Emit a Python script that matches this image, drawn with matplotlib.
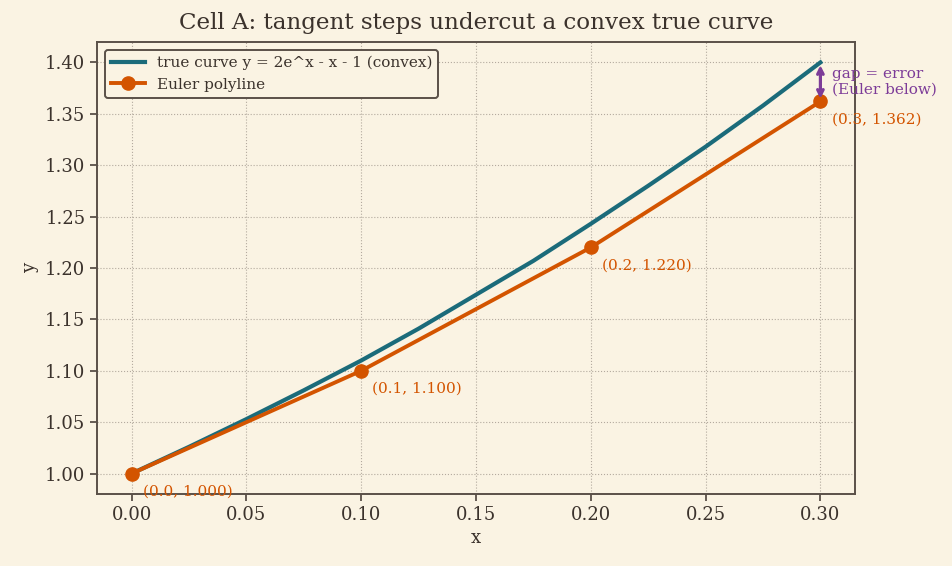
import numpy as np
import matplotlib.pyplot as plt

# true curve y = 2e^x - x - 1, values read at x steps of 0.025
true_x = [0.0, 0.025, 0.05, 0.075, 0.1, 0.125, 0.15, 0.175, 0.2, 0.225, 0.25, 0.275, 0.3]
true_y = [1.000, 1.026, 1.053, 1.081, 1.110, 1.141, 1.174, 1.207, 1.243, 1.280, 1.318, 1.358, 1.400]

# Euler polyline, h = 0.1
euler_x = [0.0, 0.1, 0.2, 0.3]
euler_y = [1.000, 1.100, 1.220, 1.362]
euler_labels = ["(0.0, 1.000)", "(0.1, 1.100)", "(0.2, 1.220)", "(0.3, 1.362)"]

bg = "#faf3e3"
ink = "#3b322c"
edge = "#5a5048"
teal = "#1b6b7a"
orange = "#d35400"
purple = "#7d3c98"

plt.rcParams['font.family'] = ['DejaVu Serif']
plt.rcParams['text.color'] = ink
plt.rcParams['axes.labelcolor'] = ink
plt.rcParams['xtick.color'] = ink
plt.rcParams['ytick.color'] = ink

fig, ax = plt.subplots(figsize=(9.53, 5.66), dpi=100)
fig.patch.set_facecolor(bg)
ax.set_facecolor(bg)

ax.plot(true_x, true_y, color=teal, lw=3.0, label="true curve y = 2e^x - x - 1 (convex)")
ax.plot(euler_x, euler_y, color=orange, lw=2.8, marker='o', ms=9.5,
        label="Euler polyline")

for x, y, s in zip(euler_x, euler_y, euler_labels):
    ax.annotate(s, (x, y), xytext=(8, -8), textcoords='offset points',
                ha='left', va='top', fontsize=11, color=orange)

# gap between curve and last Euler point
ax.annotate("", xy=(0.3, true_y[-1]), xytext=(0.3, euler_y[-1]),
            arrowprops=dict(arrowstyle='<->', color=purple, lw=2.3))
ax.annotate("gap = error\n(Euler below)", (0.3, (true_y[-1] + euler_y[-1]) / 2),
            xytext=(8, 0), textcoords='offset points', ha='left', va='center',
            fontsize=11, color=purple)

ax.set_title("Cell A: tangent steps undercut a convex true curve", fontsize=16.6,
             color=ink, pad=9)
ax.set_xlabel("x", fontsize=13)
ax.set_ylabel("y", fontsize=13)
ax.tick_params(labelsize=13, color=edge, width=1.3, length=5)
ax.grid(True, linestyle=':', color='#b3aa9e', lw=0.8)
for sp in ax.spines.values():
    sp.set_color(edge)
    sp.set_linewidth(1.4)

leg = ax.legend(loc='upper left', fontsize=11, facecolor=bg, edgecolor=edge,
                framealpha=1, handlelength=2.2)
leg.get_frame().set_linewidth(1.4)

fig.subplots_adjust(left=0.102, right=0.897, top=0.926, bottom=0.127)
fig.savefig("out.png", dpi=100, facecolor=bg)
